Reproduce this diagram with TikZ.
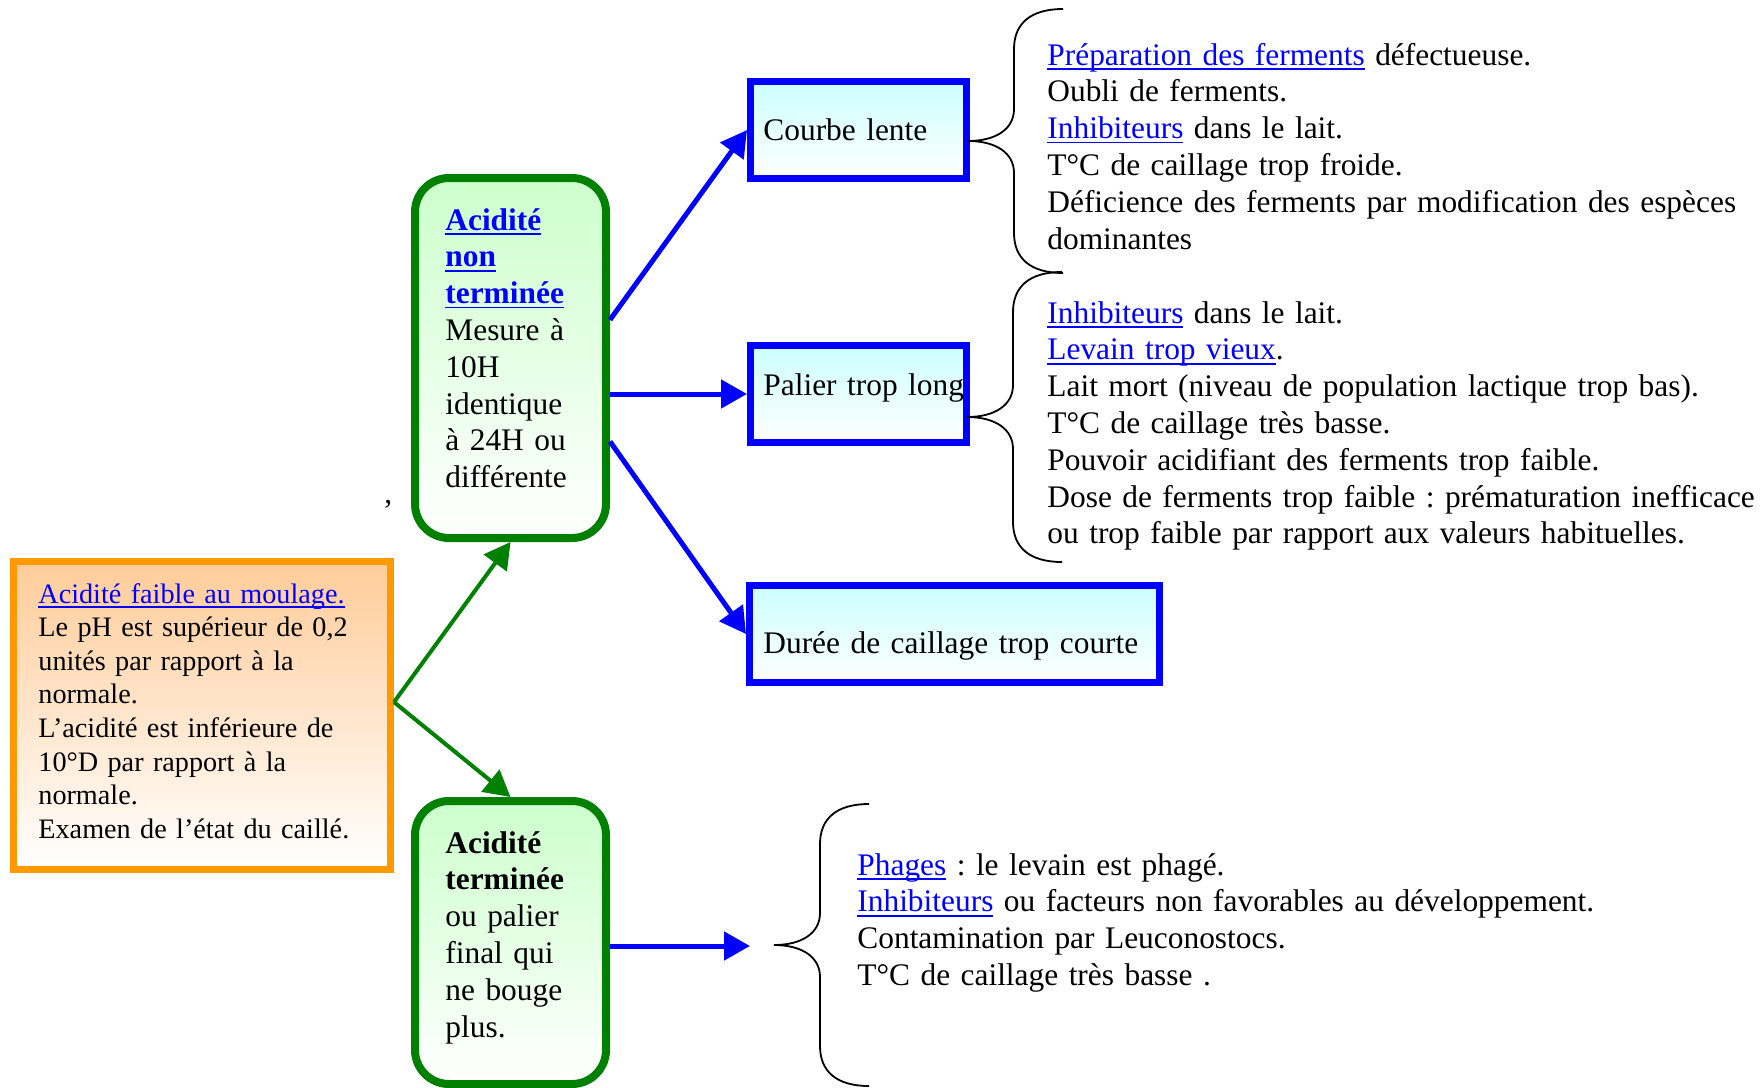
\documentclass[tikz,border=0pt]{standalone}
\usepackage{fontspec}
\setmainfont{Liberation Serif}
\usepackage{xcolor}
\usetikzlibrary{arrows.meta}
\definecolor{lien}{HTML}{0000FF}
\definecolor{vert}{HTML}{008000}
\definecolor{orangec}{HTML}{FF9900}
\definecolor{fondvert}{HTML}{CCFFCC}
\definecolor{fondbleu}{HTML}{CCFFFF}
\definecolor{fondorange}{HTML}{FFCC99}
\newsavebox{\lienbox}
\newcommand{\lien}[1]{\leavevmode\begingroup\color{lien}\sbox{\lienbox}{#1}%
    \rlap{\rule[-2.4pt]{\wd\lienbox}{0.9pt}}\usebox{\lienbox}\endgroup}
\frenchspacing

\begin{document}
\begin{tikzpicture}[x=0.5pt,y=-0.5pt,>={Triangle[length=13pt,width=14pt]}]
\tikzset{
    o1/.style={%
        draw=orangec, line width=3.5pt,
        rectangle,
        top color=fondorange, bottom color=white,
        minimum width=188.5pt,
        minimum height=154pt
        },
    v1/.style={%
        draw=vert, line width=4pt,
        rectangle,
        rounded corners=17pt,
        top color=fondvert, bottom color=white,
        minimum width=95.5pt
        },
    b1/.style={%
        draw=lien, line width=3.5pt,
        rectangle,
        top color=fondbleu, bottom color=white,
        minimum width=108pt,
        minimum height=48.5pt
        },
    txt/.style={%
        anchor=base west, inner sep=0pt,
        align=left, text width=#1,
        font=\fontsize{15.7}{18.4}\selectfont
        },
    txt/.default=380pt,
    fb/.style={->, lien, line width=2.5pt},
    fv/.style={->, vert, line width=2pt},
    accol/.style={black, line width=0.9pt}
}
\useasboundingbox (0,0) rectangle (1760,1087);
%%%BOITES
\node[o1] (acid) at (202,715.5) {};
\node[v1, minimum height=180pt] (nonterm) at (510.5,358) {};
\node[v1, minimum height=141.5pt] (term) at (510.5,942.5) {};
\node[b1] (lente) at (858.5,130) {};
\node[b1] (palier) at (858.5,394) {};
\node[b1, minimum width=205pt] (duree) at (954.5,634) {};
%%%TEXTES DES BOITES
\node[txt=185pt, font=\fontsize{14.1}{16.8}\selectfont] (t-acid) at (38,603) {\lien{Acidité faible au moulage.}\\
    Le pH est supérieur de 0,2\\ unités par rapport à la\\ normale.\\
    L’acidité est inférieure de\\ 10°D par rapport à la\\ normale.\\
    Examen de l’état du caillé.};
\node[txt=90pt] (t-nonterm) at (445,230) {\lien{\textbf{Acidité}}\\ \lien{\textbf{non}}\\
    \lien{\textbf{terminée}}\\ Mesure à\\ 10H\\ identique\\ à 24H ou\\ différente};
\node[txt=90pt] (t-term) at (445,853) {\textbf{Acidité}\\ \textbf{terminée}\\ ou palier\\
    final qui\\ ne bouge\\ plus.};
\node[txt=110pt] (t-lente) at (763,140) {Courbe lente};
\node[txt=110pt] (t-palier) at (763,395) {Palier trop long};
\node[txt=205pt] (t-duree) at (763,653) {Durée de caillage trop courte};
\node[txt=10pt] (virgule) at (384,503) {,};
%%%CAUSES
\node[txt] (c-lente) at (1047,65) {\lien{Préparation des ferments} défectueuse.\\
    Oubli de ferments.\\ \lien{Inhibiteurs} dans le lait.\\ T°C de caillage trop froide.\\
    Déficience des ferments par modification des espèces\\ dominantes};
\node[txt] (c-palier) at (1047,323) {\lien{Inhibiteurs} dans le lait.\\ \lien{Levain trop vieux}.\\
    Lait mort (niveau de population lactique trop bas).\\ T°C de caillage très basse.\\
    Pouvoir acidifiant des ferments trop faible.\\
    Dose de ferments trop faible : prématuration inefficace\\
    ou trop faible par rapport aux valeurs habituelles.};
\node[txt] (c-term) at (857,875) {\lien{Phages} : le levain est phagé.\\
    \lien{Inhibiteurs} ou facteurs non favorables au développement.\\
    Contamination par Leuconostocs.\\ T°C de caillage très basse .};
%%%FLECHES
\draw[fv] (acid.4) -- (nonterm.south);
\draw[fv] (acid.4) -- (term.north);
\draw[fb] (nonterm.21) -- (lente.west);
\draw[fb] (palier.west -| nonterm.east) -- (palier.west);
\draw[fb] (nonterm.-40) -- (duree.west);
\coordinate (pointe) at (750,946);
\draw[fb] (pointe -| term.east) -- (pointe);
%%%ACCOLADES
\draw[accol, shift={(968,141)}] (95,-132) .. controls (62,-132) and (46,-117) .. (46,-92)
    -- (46,-32) .. controls (46,-12) and (28,0) .. (0,0)
    .. controls (28,0) and (46,12) .. (46,32) -- (46,92)
    .. controls (46,117) and (62,132) .. (95,132);
\draw[accol, shift={(967,417)}] (95,-145) .. controls (62,-145) and (46,-130) .. (46,-105)
    -- (46,-32) .. controls (46,-12) and (28,0) .. (0,0)
    .. controls (28,0) and (46,12) .. (46,32) -- (46,105)
    .. controls (46,130) and (62,145) .. (95,145);
\draw[accol, shift={(774,945)}] (95,-141) .. controls (62,-141) and (46,-126) .. (46,-101)
    -- (46,-32) .. controls (46,-12) and (28,0) .. (0,0)
    .. controls (28,0) and (46,12) .. (46,32) -- (46,101)
    .. controls (46,126) and (62,141) .. (95,141);
\end{tikzpicture}
\end{document}
